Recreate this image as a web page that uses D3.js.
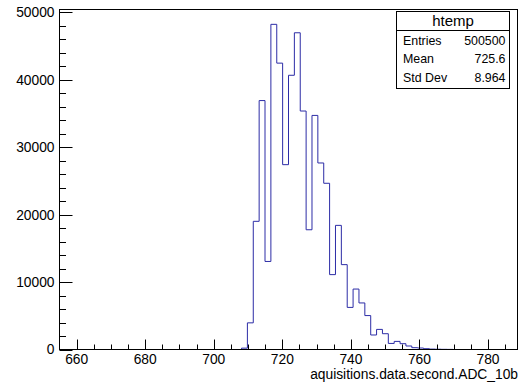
<!DOCTYPE html>
<html>
<head>
<meta charset="utf-8">
<script src="https://cdn.jsdelivr.net/npm/d3@7"></script>
<style>
  body { margin: 0; background: #fff; }
  svg { display: block; font-family: "Liberation Sans", Arial, sans-serif; }
</style>
</head>
<body>
<svg id="screen" width="521" height="384"></svg>
<script>
// histogram definition (htemp)
const xRange = [655, 788.6];
const counts = [
  0, 0, 0, 0, 0, 0, 0, 0, 0, 0,
  0, 0, 0, 0, 0, 0, 0, 0, 0, 0,
  0, 0, 0, 0, 0, 0, 0, 0, 0, 0,
  0, 200, 3950, 19000, 36900, 13050, 48200, 42450, 27400, 40650,
  46950, 35350, 17750, 34700, 27650, 24640, 11100, 18400, 12580, 6240,
  8960, 6900, 5030, 2150, 2980, 2340, 900, 1200, 860, 520,
  270, 220, 120, 60, 40, 25, 15, 0, 0, 0,
  0, 0, 0, 0, 0, 0, 0, 0
];
const yMax = 50400;
const xTicks = [660, 680, 700, 720, 740, 760, 780];
const yTicks = [0, 10000, 20000, 30000, 40000, 50000];
const xTitle = 'aquisitions.data.second.ADC_10b';
const statsTitle = 'htemp';
const statsLabels = ['Entries', 'Mean', 'Std Dev'];
const statsValues = ['500500', '725.6', '8.964'];

const frame = {left: 59.5, right: 517.5, top: 9.5, bottom: 349.5};
const svg = d3.select('#screen');

const x = d3.scaleLinear().domain(xRange).range([frame.left, frame.right]);
const y = d3.scaleLinear().domain([0, yMax]).range([frame.bottom, frame.top]);
const binWidth = (xRange[1] - xRange[0]) / counts.length;

// histogram outline, from first to last filled bin
const first = counts.findIndex((c) => c > 0);
let last = counts.length - 1;
while (counts[last] === 0) --last;
const points = [[x(xRange[0] + first * binWidth), y(0)]];
for (let i = first; i <= last; ++i) {
  const lo = xRange[0] + i * binWidth;
  points.push([x(lo), y(counts[i])]);
  points.push([x(lo + binWidth), y(counts[i])]);
}
points.push([x(xRange[0] + (last + 1) * binWidth), y(0)]);

svg.append('path')
  .attr('d', d3.line()(points))
  .attr('fill', 'none')
  .attr('stroke', '#2c2ca6')
  .attr('stroke-width', 1);

// frame
svg.append('rect')
  .attr('x', frame.left)
  .attr('y', frame.top)
  .attr('width', frame.right - frame.left)
  .attr('height', frame.bottom - frame.top)
  .attr('fill', 'none')
  .attr('stroke', '#000');

// y axis
const yMinor = d3.range(0, 50001, 2000).filter((v) => v % 10000 !== 0);
svg.append('g')
  .selectAll('line.minor')
  .data(yMinor)
  .enter()
  .append('line')
  .attr('x1', frame.left)
  .attr('x2', frame.left + 6.5)
  .attr('y1', (d) => Math.round(y(d)) + 0.5)
  .attr('y2', (d) => Math.round(y(d)) + 0.5)
  .attr('stroke', '#000');
const yAxis = svg.append('g');
yAxis.selectAll('line')
  .data(yTicks)
  .enter()
  .append('line')
  .attr('x1', frame.left)
  .attr('x2', frame.left + 13)
  .attr('y1', (d) => Math.round(y(d)) + 0.5)
  .attr('y2', (d) => Math.round(y(d)) + 0.5)
  .attr('stroke', '#000');
yAxis.selectAll('text')
  .data(yTicks)
  .enter()
  .append('text')
  .attr('x', 54.5)
  .attr('y', (d) => y(d))
  .attr('dy', '0.36em')
  .attr('text-anchor', 'end')
  .attr('font-size', 13.8)
  .text((d) => d);

// x axis
const xMinor = d3.range(660, 789, 5).filter((v) => v % 20 !== 0);
svg.append('g')
  .selectAll('line')
  .data(xMinor)
  .enter()
  .append('line')
  .attr('x1', (d) => Math.round(x(d)) + 0.5)
  .attr('x2', (d) => Math.round(x(d)) + 0.5)
  .attr('y1', frame.bottom)
  .attr('y2', frame.bottom - 5)
  .attr('stroke', '#000');
const xAxis = svg.append('g');
xAxis.selectAll('line')
  .data(xTicks)
  .enter()
  .append('line')
  .attr('x1', (d) => Math.round(x(d)) + 0.5)
  .attr('x2', (d) => Math.round(x(d)) + 0.5)
  .attr('y1', frame.bottom)
  .attr('y2', frame.bottom - 10)
  .attr('stroke', '#000');
xAxis.selectAll('text')
  .data(xTicks)
  .enter()
  .append('text')
  .attr('x', (d) => x(d))
  .attr('y', 363.5)
  .attr('text-anchor', 'middle')
  .attr('font-size', 13.8)
  .text((d) => d);

svg.append('text')
  .attr('x', 518)
  .attr('y', 378.5)
  .attr('text-anchor', 'end')
  .attr('font-size', 13.8)
  .text(xTitle);

// stats box
const stats = svg.append('g');
stats.append('rect')
  .attr('x', 396.5)
  .attr('y', 11.5)
  .attr('width', 113)
  .attr('height', 77)
  .attr('fill', '#fff')
  .attr('stroke', '#000');
stats.append('line')
  .attr('x1', 396.5)
  .attr('x2', 509.5)
  .attr('y1', 30.5)
  .attr('y2', 30.5)
  .attr('stroke', '#000');
stats.append('text')
  .attr('x', 453)
  .attr('y', 25.5)
  .attr('text-anchor', 'middle')
  .attr('font-size', 15)
  .text(statsTitle);
statsLabels.forEach((label, i) => {
  stats.append('text')
    .attr('x', 403)
    .attr('y', 45 + i * 18.3)
    .attr('font-size', 12.4)
    .text(label);
  stats.append('text')
    .attr('x', 505.5)
    .attr('y', 45 + i * 18.3)
    .attr('text-anchor', 'end')
    .attr('font-size', 12.4)
    .text(statsValues[i]);
});
</script>
</body>
</html>
